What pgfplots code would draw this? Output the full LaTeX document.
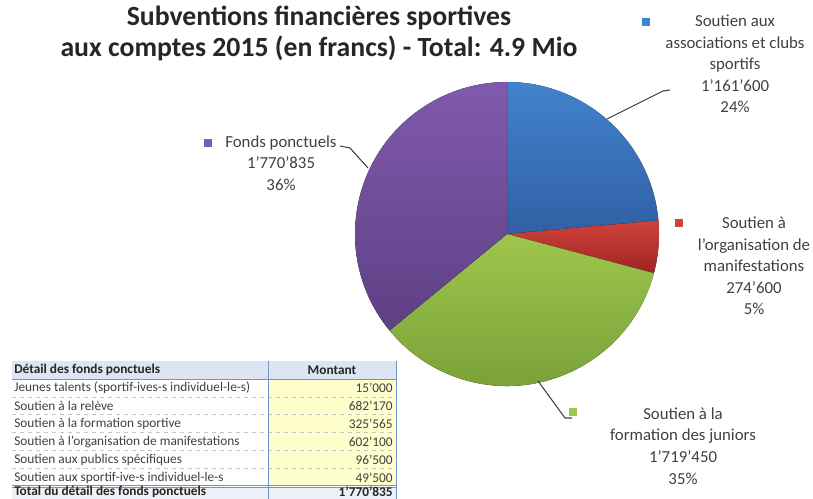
\documentclass[border=0pt]{standalone}
\usepackage{pgfplots}
\pgfplotsset{compat=1.18}
\usepackage{fontspec}
\setmainfont{Carlito}

\definecolor{blueT}{RGB}{66,130,205}
\definecolor{blueB}{RGB}{48,96,165}
\definecolor{redT}{RGB}{208,66,58}
\definecolor{redB}{RGB}{158,36,36}
\definecolor{greenT}{RGB}{158,198,76}
\definecolor{greenB}{RGB}{118,158,54}
\definecolor{purpT}{RGB}{128,90,172}
\definecolor{purpB}{RGB}{94,64,132}
\definecolor{txt}{RGB}{64,64,64}
\definecolor{hdr}{RGB}{220,229,241}
\definecolor{cellY}{RGB}{255,255,206}
\definecolor{tblue}{RGB}{110,150,205}

% slice values (francs)
\def\vA{1161600}
\def\vB{274600}
\def\vC{1719450}
\def\vD{1770835}

\begin{document}
\begin{tikzpicture}
\edef\tot{\fpeval{\vA+\vB+\vC+\vD}}
\edef\aA{90}
\edef\aB{\fpeval{\aA-360*\vA/\tot}}
\edef\aC{\fpeval{\aB-360*\vB/\tot}}
\edef\aD{\fpeval{\aC-360*\vC/\tot}}
\edef\aE{\fpeval{\aD-360*\vD/\tot}}
\def\R{114pt}
\begin{axis}[
  scale only axis,
  width=609.75pt, height=374.25pt,
  xmin=0, xmax=813, ymin=0, ymax=499,
  y dir=reverse,
  hide axis,
  clip=false,
]
\coordinate (p1) at (axis cs:0,0);
\coordinate (p2) at (axis cs:813,499);
\coordinate (c) at (axis cs:507,234);

% pie slices, clockwise from 12 o'clock
\fill[top color=blueT, bottom color=blueB] (c) -- ([shift={(\aA:\R)}]c) arc[start angle=\aA, end angle=\aB, radius=\R] -- cycle;
\fill[top color=redT, bottom color=redB] (c) -- ([shift={(\aB:\R)}]c) arc[start angle=\aB, end angle=\aC, radius=\R] -- cycle;
\fill[top color=greenT, bottom color=greenB] (c) -- ([shift={(\aC:\R)}]c) arc[start angle=\aC, end angle=\aD, radius=\R] -- cycle;
\fill[top color=purpT, bottom color=purpB] (c) -- ([shift={(\aD:\R)}]c) arc[start angle=\aD, end angle=\aE, radius=\R] -- cycle;

% title
\node[font=\fontsize{20.8}{23.3}\selectfont\bfseries, align=center, text=black!85, inner sep=0pt]
  at (axis cs:319,33) {Subventions financières sportives\\aux comptes 2015 (en francs) - Total: 4.9 Mio};

% leader lines
\draw[txt, line width=0.8pt] (axis cs:607,119) -- (axis cs:663,91) -- (axis cs:670,90);
\draw[txt, line width=0.8pt] (axis cs:340,146) -- (axis cs:350,148) -- (axis cs:368,168);
\draw[txt, line width=0.8pt] (axis cs:538,381) -- (axis cs:565,418) -- (axis cs:572,418);

% legend squares
\fill[blueT] (axis cs:642,18) rectangle (axis cs:650,26);
\fill[redT] (axis cs:675,219) rectangle (axis cs:683,227);
\fill[greenT] (axis cs:569,408) rectangle (axis cs:577,416);
\fill[purpT] (axis cs:204,139) rectangle (axis cs:212,147);

% data labels
\tikzset{lbl/.style={font=\fontsize{12.6}{16.2}\selectfont, align=center, text=txt, inner sep=0pt}}
\node[lbl] at (axis cs:735,64) {Soutien aux\\associations et clubs\\sportifs\\1'161'600\\24\%};
\node[lbl] at (axis cs:754,266) {Soutien à\\l'organisation de\\manifestations\\274'600\\5\%};
\node[lbl] at (axis cs:683,446) {Soutien à la\\formation des juniors\\1'719'450\\35\%};
\node[lbl] at (axis cs:281,163) {Fonds ponctuels\\1'770'835\\36\%};

% detail table
\fill[hdr] (axis cs:12,361) rectangle (axis cs:396,379);
\fill[cellY] (axis cs:268,379) rectangle (axis cs:396,485.8);
\fill[hdr!50] (axis cs:12,487.5) rectangle (axis cs:396,499);
\draw[gray!45, dashed, line width=0.4pt] (axis cs:12,396.8) -- (axis cs:396,396.8);
\draw[gray!45, dashed, line width=0.4pt] (axis cs:12,414.6) -- (axis cs:396,414.6);
\draw[gray!45, dashed, line width=0.4pt] (axis cs:12,432.4) -- (axis cs:396,432.4);
\draw[gray!45, dashed, line width=0.4pt] (axis cs:12,450.2) -- (axis cs:396,450.2);
\draw[gray!45, dashed, line width=0.4pt] (axis cs:12,468.0) -- (axis cs:396,468.0);
\draw[tblue, line width=0.7pt] (axis cs:12,379) -- (axis cs:396,379);
\draw[tblue, line width=0.5pt] (axis cs:12,485.6) -- (axis cs:396,485.6);
\draw[tblue, line width=0.5pt] (axis cs:12,487.6) -- (axis cs:396,487.6);
\draw[tblue, line width=0.7pt] (axis cs:268,361) -- (axis cs:268,499);
\draw[tblue, line width=0.7pt] (axis cs:396,361) -- (axis cs:396,499);

\tikzset{tl/.style={font=\fontsize{10}{11}\selectfont, text=txt, anchor=west, inner sep=0pt},
         tr/.style={font=\fontsize{10}{11}\selectfont, text=txt, anchor=east, inner sep=0pt}}
\node[tl, font=\fontsize{10}{11}\selectfont\bfseries, text=black!85] at (axis cs:14,370) {Détail des fonds ponctuels};
\node[font=\fontsize{10}{11}\selectfont\bfseries, text=black!85, inner sep=0pt] at (axis cs:332,370) {Montant};
\node[tl] at (axis cs:14,388) {Jeunes talents (sportif-ives-s individuel-le-s)};
\node[tl] at (axis cs:14,406) {Soutien à la relève};
\node[tl] at (axis cs:14,424) {Soutien à la formation sportive};
\node[tl] at (axis cs:14,442) {Soutien à l'organisation de manifestations};
\node[tl] at (axis cs:14,459.5) {Soutien aux publics spécifiques};
\node[tl] at (axis cs:14,477.5) {Soutien aux sportif-ive-s individuel-le-s};
\node[tl, font=\fontsize{10}{11}\selectfont\bfseries, text=black!85] at (axis cs:14,492) {Total du détail des fonds ponctuels};
\node[tr] at (axis cs:393,388) {15'000};
\node[tr] at (axis cs:393,406) {682'170};
\node[tr] at (axis cs:393,424) {325'565};
\node[tr] at (axis cs:393,442) {602'100};
\node[tr] at (axis cs:393,459.5) {96'500};
\node[tr] at (axis cs:393,477.5) {49'500};
\node[tr, font=\fontsize{10}{11}\selectfont\bfseries, text=black!85] at (axis cs:393,492) {1'770'835};
\end{axis}
\pgfresetboundingbox
\useasboundingbox (p1) rectangle (p2);
\end{tikzpicture}
\end{document}
